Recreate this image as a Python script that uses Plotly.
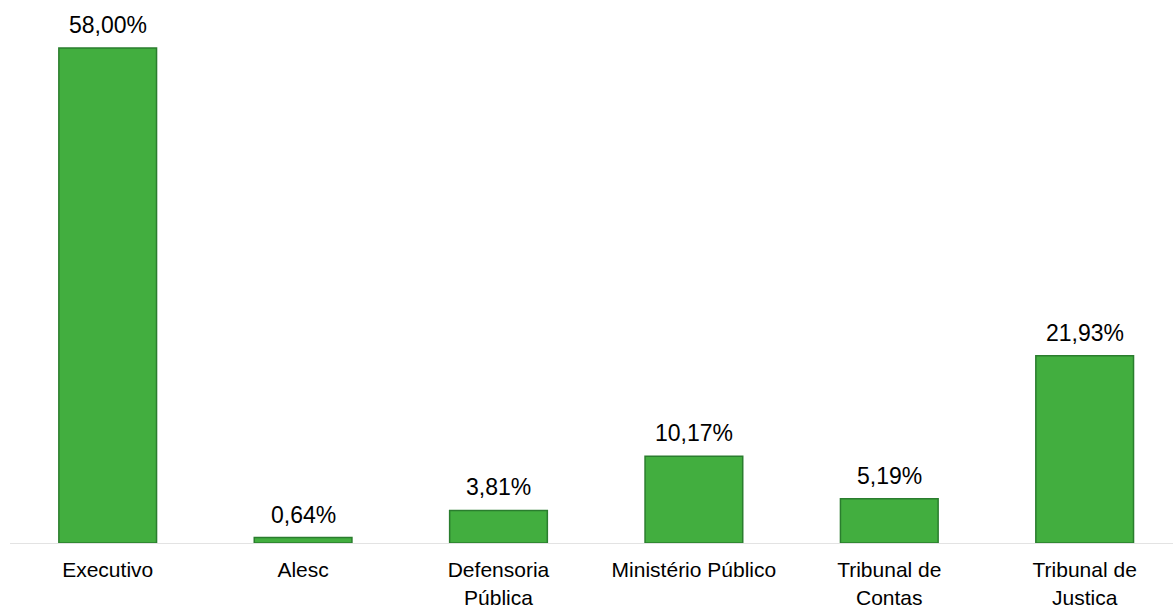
import plotly.graph_objects as go

categories = ["Executivo", "Alesc", "Defensoria<br>Pública", "Ministério Público",
              "Tribunal de<br>Contas", "Tribunal de<br>Justica"]
values = [58.00, 0.64, 3.81, 10.17, 5.19, 21.93]
labels = ["58,00%", "0,64%", "3,81%", "10,17%", "5,19%", "21,93%"]

FONT = "Liberation Sans, Arial, sans-serif"

fig = go.Figure(go.Bar(
    x=categories, y=values,
    marker=dict(color="#42ae3f", line=dict(color="#2a7d2e", width=1.5)),
    cliponaxis=False, hoverinfo="skip",
))

for c, v, t in zip(categories, values, labels):
    fig.add_annotation(x=c, y=v, text=t, showarrow=False, yanchor="bottom",
                       yshift=8, font=dict(family=FONT, size=23, color="#000000"))

fig.update_layout(
    width=1173, height=608,
    margin=dict(l=10, r=0, t=31, b=65, autoexpand=False),
    paper_bgcolor="white", plot_bgcolor="white",
    bargap=0.5, showlegend=False,
    font=dict(family=FONT, size=21, color="#000000"),
    xaxis=dict(range=[-0.5, 5.452], showline=True, linecolor="#e3e3e3", linewidth=1,
               ticks="", showgrid=False, tickfont=dict(size=21), automargin=False,
               ticklabelstandoff=8),
    yaxis=dict(range=[0, 60], visible=False, showgrid=False, automargin=False),
)

fig.write_html("out.html", config={"displayModeBar": False},
               post_script="document.body.style.margin='0px';")
